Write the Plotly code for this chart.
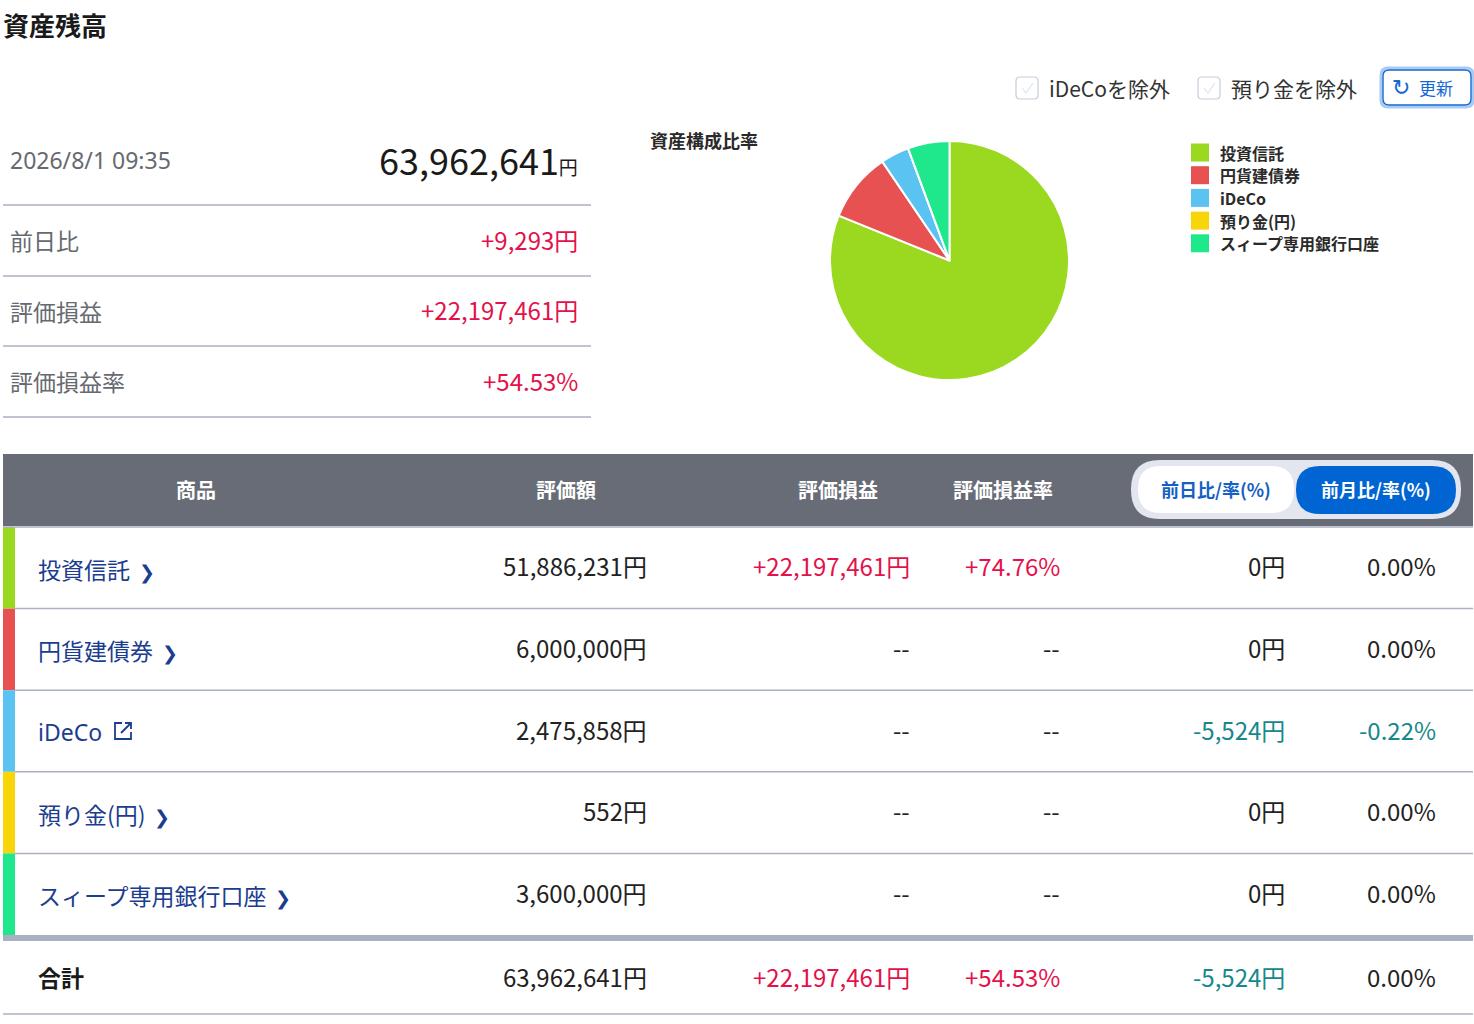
import plotly.graph_objects as go

# Canvas size (pixels)
W, H = 1474, 1024

# Data
UPDATED_AT = "2026/8/1 09:35"
TOTAL_VALUE = 63962641
SUMMARY_LABELS = ["前日比", "評価損益", "評価損益率"]
SUMMARY_YEN = [9293, 22197461]
SUMMARY_RATE = 54.53

PRODUCTS = ["投資信託", "円貨建債券", "iDeCo", "預り金(円)", "スィープ専用銀行口座"]
PRODUCT_COLORS = ["#9bd921", "#e85151", "#5bc3f1", "#f7d508", "#1fe78b"]
VALUATION = [51886231, 6000000, 2475858, 552, 3600000]
GAIN = [22197461, None, None, None, None]
GAIN_RATE = [74.76, None, None, None, None]
MONTH_CHANGE = [0, 0, -5524, 0, 0]
MONTH_RATE = [0.00, 0.00, -0.22, 0.00, 0.00]

TOTAL_GAIN = 22197461
TOTAL_GAIN_RATE = 54.53
TOTAL_MONTH_CHANGE = -5524
TOTAL_MONTH_RATE = 0.00

TABLE_HEADERS = ["商品", "評価額", "評価損益", "評価損益率"]
TOGGLE_LABELS = ["前日比/率(%)", "前月比/率(%)"]
CHECKBOX_LABELS = ["iDeCoを除外", "預り金を除外"]

# Fonts and colours
JP = "Noto Sans CJK JP"
NUM = "Noto Sans CJK JP"
RED = "#e3124b"
TEAL = "#16888c"
INK = "#222222"
GREY_TXT = "#666a70"
NAVY = "#1b3d8f"
RULE = "#aab1c1"


def yen(v, signed=False, small=None):
    # Format a yen amount, keep sign only when asked or when negative
    if v is None:
        return "--"
    if signed and v != 0:
        s = f"{v:+,}"
    else:
        s = f"{v:,}"
    if small:
        return s + f"<span style='font-size:{small}px'>円</span>"
    return s + "円"


def pct(v, signed=False):
    if v is None:
        return "--"
    if signed and v != 0:
        return f"{v:+.2f}%"
    return f"{v:.2f}%"


def tone(v):
    if v is None or v == 0:
        return INK
    return RED if v > 0 else TEAL


def rounded(x0, y0, x1, y1, r):
    # Rounded rectangle as an svg path in pixel coordinates
    return (f"M {x0+r} {y0} L {x1-r} {y0} Q {x1} {y0} {x1} {y0+r} "
            f"L {x1} {y1-r} Q {x1} {y1} {x1-r} {y1} L {x0+r} {y1} "
            f"Q {x0} {y1} {x0} {y1-r} L {x0} {y0+r} Q {x0} {y0} {x0+r} {y0} Z")


shapes = []
annotations = []


def text(x, y, s, size, color=INK, anchor="left", family=JP, bold=False):
    annotations.append(dict(
        x=x, y=y, xref="x", yref="y", text=s, showarrow=False,
        xanchor=anchor, yanchor="middle", borderpad=0,
        font=dict(family=family, size=size, color=color,
                  weight="bold" if bold else "normal"),
    ))


def hline(y, x0, x1, color=RULE, width=1.5):
    shapes.append(dict(type="line", xref="x", yref="y", x0=x0, x1=x1,
                       y0=y, y1=y, line=dict(color=color, width=width)))


def box(x0, y0, x1, y1, fill, layer="below"):
    shapes.append(dict(type="rect", xref="x", yref="y", x0=x0, x1=x1,
                       y0=y0, y1=y1, fillcolor=fill,
                       line=dict(width=0), layer=layer))


def path(p, fill=None, color=None, width=0):
    shapes.append(dict(type="path", xref="x", yref="y", path=p,
                       fillcolor=fill, line=dict(color=color, width=width)))


# Page title
text(2, 24, "資産残高", 26, "#1a1a1a", bold=True)

# Check boxes and refresh button
for i, label in enumerate(CHECKBOX_LABELS):
    bx = 1016 + i * 182
    path(rounded(bx, 77, bx + 22, 99, 4), fill="white", color="#c6cddb", width=1.2)
    path(f"M {bx+6} 88 L {bx+10} 93 L {bx+17} 83", color="#e4ebf6", width=1.5)
    text(bx + 32, 88, label, 21, "#333333")

path(rounded(1381, 68, 1473, 107, 7), fill="white", color="#a9caf3", width=3)
path(rounded(1383, 70, 1471, 105, 6), fill="white", color="#1467d2", width=1.4)
text(1391, 87, "↻", 22, "#1467d2", family="DejaVu Sans")
text(1418, 87, "更新", 17, "#1467d2")

# Summary block
text(9, 160, UPDATED_AT, 23, GREY_TXT, family="Noto Sans")
text(579, 159, yen(TOTAL_VALUE, small=19), 36, "#1a1a1a", anchor="right", family=NUM)
for y in [205, 276, 346, 417]:
    hline(y, 3, 591)
summary_values = [yen(SUMMARY_YEN[0], True), yen(SUMMARY_YEN[1], True),
                  pct(SUMMARY_RATE, True)]
for i, (label, val) in enumerate(zip(SUMMARY_LABELS, summary_values)):
    yc = 240 + i * 70.5
    text(9, yc, label, 23, GREY_TXT)
    text(579, yc - 1, val, 24, RED, anchor="right", family=NUM)

# Pie chart caption
text(649, 140, "資産構成比率", 18, "#2a2a2a", bold=True)

# Pie legend built from the product list
for i, (name, col) in enumerate(zip(PRODUCTS, PRODUCT_COLORS)):
    ly = 152.5 + i * 22.7
    box(1191, ly - 9, 1209, ly + 9, col, layer="above")
    text(1219, ly, name, 16, "#2a2a2a", bold=True)

# Table header
box(3, 454, 1473, 526, "#686c76")
header_x = [196, 566, 838, 1003]
for hx, label in zip(header_x, TABLE_HEADERS):
    text(hx, 489, label, 20, "white", anchor="center", bold=True)
path(rounded(1131, 460, 1461, 519, 29), fill="#e3e6ee", color="#e3e6ee", width=0)
path(rounded(1138, 466, 1294, 513, 23), fill="white", color="white", width=0)
path(rounded(1296, 466, 1456, 514, 24), fill="#0064d2", color="#0064d2", width=0)
text(1216, 489, TOGGLE_LABELS[0], 18, "#1560c4", anchor="center", bold=True)
text(1376, 489, TOGGLE_LABELS[1], 18, "white", anchor="center", bold=True)
hline(527, 3, 1473)

# Table rows
col_right = [648, 911, 1061, 1286, 1437]
row_top, row_h = 527, 81.6
for i, name in enumerate(PRODUCTS):
    y0 = row_top + i * row_h
    yc = y0 + row_h / 2
    box(3, y0, 15, y0 + row_h, PRODUCT_COLORS[i])
    if i < len(PRODUCTS) - 1:
        hline(y0 + row_h, 15, 1473)
    if name == "iDeCo":
        text(37, yc + 1, name, 23, NAVY, family="Noto Sans")
        # external link icon
        path(f"M {122} {yc-8} L {115} {yc-8} L {115} {yc+8} L {131} {yc+8} L {131} {yc+1}",
             color=NAVY, width=1.8)
        path(f"M {121} {yc+2} L {131} {yc-8} M {125} {yc-8} L {131} {yc-8} L {131} {yc-2}",
             color=NAVY, width=1.8)
    else:
        text(37, yc + 1, name + "<span style='font-size:19px'>  ❯</span>", 23, NAVY)
    cells = [
        (yen(VALUATION[i]), INK),
        (yen(GAIN[i], True), tone(GAIN[i])),
        (pct(GAIN_RATE[i], True), tone(GAIN_RATE[i])),
        (yen(MONTH_CHANGE[i], True), tone(MONTH_CHANGE[i])),
        (pct(MONTH_RATE[i], True), tone(MONTH_RATE[i])),
    ]
    for xr, (s, c) in zip(col_right, cells):
        text(xr, yc - 2, s, 24, c, anchor="right", family=NUM)

# Total row
box(3, 935, 1473, 941, "#a9b0c2")
text(37, 977, "合計", 23, "#1a1a1a", bold=True)
totals = [
    (yen(TOTAL_VALUE), INK),
    (yen(TOTAL_GAIN, True), tone(TOTAL_GAIN)),
    (pct(TOTAL_GAIN_RATE, True), tone(TOTAL_GAIN_RATE)),
    (yen(TOTAL_MONTH_CHANGE, True), tone(TOTAL_MONTH_CHANGE)),
    (pct(TOTAL_MONTH_RATE, True), tone(TOTAL_MONTH_RATE)),
]
for xr, (s, c) in zip(col_right, totals):
    text(xr, 976, s, 24, c, anchor="right", family=NUM)
hline(1014, 3, 1473)

# Asset mix pie
fig = go.Figure()
fig.add_trace(go.Pie(
    labels=PRODUCTS,
    values=VALUATION,
    marker=dict(colors=PRODUCT_COLORS, line=dict(color="white", width=2)),
    sort=False,
    direction="clockwise",
    rotation=0,
    textinfo="none",
    hoverinfo="label+value+percent",
    showlegend=False,
    domain=dict(x=[830 / W, 1069 / W], y=[1 - 380 / H, 1 - 141 / H]),
))

# Invisible pixel axes for the page furniture
fig.update_layout(
    width=W,
    height=H,
    margin=dict(l=0, r=0, t=0, b=0),
    paper_bgcolor="white",
    plot_bgcolor="white",
    xaxis=dict(range=[0, W], visible=False, fixedrange=True),
    yaxis=dict(range=[H, 0], visible=False, fixedrange=True),
    shapes=shapes,
    annotations=annotations,
    showlegend=False,
)

fig.write_html("out.html", config={"displayModeBar": False},
               post_script="document.body.style.margin='0';")
